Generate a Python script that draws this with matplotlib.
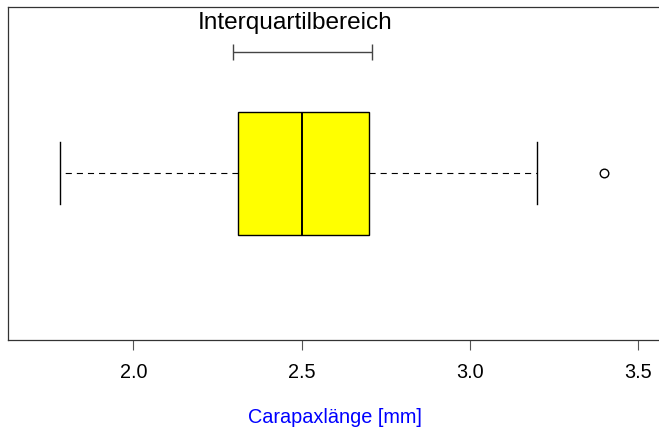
import matplotlib
matplotlib.use("Agg")
import matplotlib.pyplot as plt

# Data
whisker_low = 1.78
q1 = 2.31
median = 2.50
q3 = 2.70
whisker_high = 3.20
outliers = [3.40]
iqr_bracket = [2.295, 2.71]
x_ticks = [2.0, 2.5, 3.0, 3.5]
x_tick_labels = ["2.0", "2.5", "3.0", "3.5"]
annotation = "Interquartilbereich"
x_label = "Carapaxlänge [mm]"

plt.rcParams['font.family'] = ['Liberation Sans', 'DejaVu Sans']

W, H = 659, 430
fig = plt.figure(figsize=(W / 100, H / 100), dpi=100)
left_px, right_px, top_px, bottom_px = 8.4, 662, 6.5, 340
ax = fig.add_axes([left_px / W, (H - bottom_px) / H,
                   (right_px - left_px) / W, (bottom_px - top_px) / H])

stats = [dict(whislo=whisker_low, q1=q1, med=median, q3=q3,
              whishi=whisker_high, fliers=outliers)]
ax.bxp(stats, positions=[1], widths=0.4, vert=False, patch_artist=True,
       boxprops=dict(facecolor='#ffff00', edgecolor='black', linewidth=1.0),
       medianprops=dict(color='black', linewidth=1.4),
       whiskerprops=dict(color='black', linewidth=0.8, linestyle=(0, (5.5, 4.5))),
       capprops=dict(color='black', linewidth=1.0),
       flierprops=dict(marker='o', markerfacecolor='none', markeredgecolor='black',
                       markersize=6.2, markeredgewidth=1.0))

# IQR bracket
mid = sum(iqr_bracket) / 2
ax.errorbar([mid], [1.394],
            xerr=[[mid - iqr_bracket[0]], [iqr_bracket[1] - mid]],
            fmt='none', ecolor='#444444', elinewidth=1.0, capsize=6, capthick=1.0)
ax.text(2.48, 1.467, annotation, ha='center', va='baseline', fontsize=17.6)

ax.set_xlim(1.628, 3.572)
ax.set_ylim(0.457, 1.5415)
ax.set_xticks(x_ticks)
ax.set_xticklabels(x_tick_labels, fontsize=14.3)
ax.set_yticks([])
ax.tick_params(axis='x', length=7.2, width=0.8, color='#555555', pad=9)
ax.set_xlabel(x_label, color='#0000ff', fontsize=14.3, labelpad=19)
for s in ax.spines.values():
    s.set_linewidth(0.9)
    s.set_color('#333333')

fig.savefig("out.png", dpi=100)
